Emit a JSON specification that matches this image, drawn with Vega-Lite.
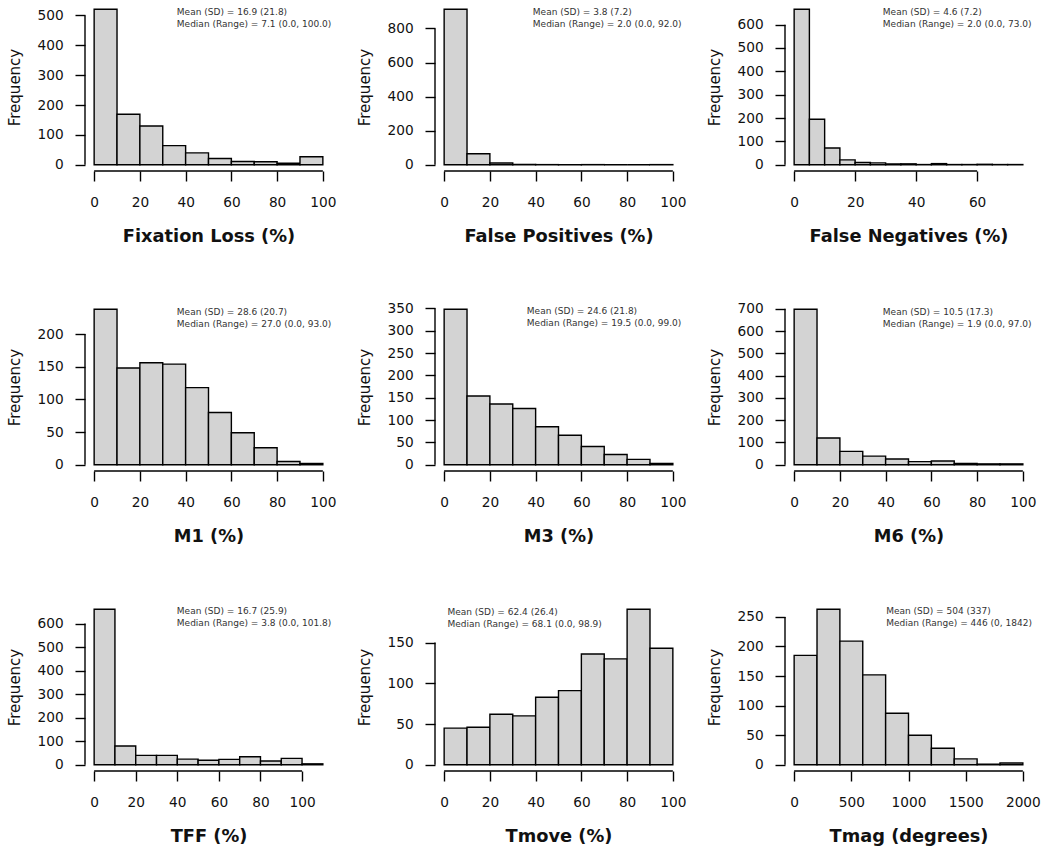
{
"$schema": "https://vega.github.io/schema/vega-lite/v6.json",
"background": "white",
"padding": {"left": 7, "top": 3, "right": 2, "bottom": 2},
"columns": 3,
"spacing": {"row": 132, "column": 103},
"bounds": "flush",
"datasets": {
"fixation": [{"lo":0,"hi":10,"count":521},{"lo":10,"hi":20,"count":169},{"lo":20,"hi":30,"count":130},{"lo":30,"hi":40,"count":64},{"lo":40,"hi":50,"count":40},{"lo":50,"hi":60,"count":21},{"lo":60,"hi":70,"count":11},{"lo":70,"hi":80,"count":10},{"lo":80,"hi":90,"count":5},{"lo":90,"hi":100,"count":27}],
"fpos": [{"lo":0,"hi":10,"count":913},{"lo":10,"hi":20,"count":65},{"lo":20,"hi":30,"count":10},{"lo":30,"hi":40,"count":2},{"lo":40,"hi":50,"count":1},{"lo":50,"hi":60,"count":1},{"lo":60,"hi":70,"count":1},{"lo":70,"hi":80,"count":0},{"lo":80,"hi":90,"count":0},{"lo":90,"hi":100,"count":1}],
"fneg": [{"lo":0,"hi":5,"count":666},{"lo":5,"hi":10,"count":195},{"lo":10,"hi":15,"count":72},{"lo":15,"hi":20,"count":21},{"lo":20,"hi":25,"count":10},{"lo":25,"hi":30,"count":8},{"lo":30,"hi":35,"count":4},{"lo":35,"hi":40,"count":4},{"lo":40,"hi":45,"count":1},{"lo":45,"hi":50,"count":5},{"lo":50,"hi":55,"count":1},{"lo":55,"hi":60,"count":1},{"lo":60,"hi":65,"count":2},{"lo":65,"hi":70,"count":1},{"lo":70,"hi":75,"count":1}],
"m1": [{"lo":0,"hi":10,"count":238},{"lo":10,"hi":20,"count":148},{"lo":20,"hi":30,"count":156},{"lo":30,"hi":40,"count":154},{"lo":40,"hi":50,"count":118},{"lo":50,"hi":60,"count":80},{"lo":60,"hi":70,"count":49},{"lo":70,"hi":80,"count":26},{"lo":80,"hi":90,"count":5},{"lo":90,"hi":100,"count":2}],
"m3": [{"lo":0,"hi":10,"count":348},{"lo":10,"hi":20,"count":154},{"lo":20,"hi":30,"count":136},{"lo":30,"hi":40,"count":126},{"lo":40,"hi":50,"count":85},{"lo":50,"hi":60,"count":66},{"lo":60,"hi":70,"count":41},{"lo":70,"hi":80,"count":23},{"lo":80,"hi":90,"count":12},{"lo":90,"hi":100,"count":3}],
"m6": [{"lo":0,"hi":10,"count":698},{"lo":10,"hi":20,"count":120},{"lo":20,"hi":30,"count":60},{"lo":30,"hi":40,"count":39},{"lo":40,"hi":50,"count":26},{"lo":50,"hi":60,"count":14},{"lo":60,"hi":70,"count":17},{"lo":70,"hi":80,"count":6},{"lo":80,"hi":90,"count":4},{"lo":90,"hi":100,"count":4}],
"tff": [{"lo":0,"hi":10,"count":661},{"lo":10,"hi":20,"count":80},{"lo":20,"hi":30,"count":40},{"lo":30,"hi":40,"count":40},{"lo":40,"hi":50,"count":24},{"lo":50,"hi":60,"count":19},{"lo":60,"hi":70,"count":23},{"lo":70,"hi":80,"count":34},{"lo":80,"hi":90,"count":16},{"lo":90,"hi":100,"count":27},{"lo":100,"hi":110,"count":4}],
"tmove": [{"lo":0,"hi":10,"count":45},{"lo":10,"hi":20,"count":46},{"lo":20,"hi":30,"count":62},{"lo":30,"hi":40,"count":60},{"lo":40,"hi":50,"count":83},{"lo":50,"hi":60,"count":91},{"lo":60,"hi":70,"count":136},{"lo":70,"hi":80,"count":130},{"lo":80,"hi":90,"count":191},{"lo":90,"hi":100,"count":143}],
"tmag": [{"lo":0,"hi":200,"count":185},{"lo":200,"hi":400,"count":263},{"lo":400,"hi":600,"count":209},{"lo":600,"hi":800,"count":152},{"lo":800,"hi":1000,"count":87},{"lo":1000,"hi":1200,"count":50},{"lo":1200,"hi":1400,"count":28},{"lo":1400,"hi":1600,"count":10},{"lo":1600,"hi":1800,"count":1},{"lo":1800,"hi":2000,"count":3}],
"one": [{"k":1}]
},
"concat": [
{"width":247,"height":168,"layer":[
 {"data":{"name":"fixation"},"mark":{"type":"rect","fill":"#d3d3d3","stroke":"#000","strokeWidth":1.4},
  "encoding":{"x":{"field":"lo","type":"quantitative","scale":{"domain":[-4,104],"nice":false,"zero":false},"axis":{"values":[0,20,40,60,80,100],"tickCount":30,"format":"d","labelOverlap":false,"title":"Fixation Loss (%)"}},"x2":{"field":"hi"},
   "y":{"field":"count","type":"quantitative","scale":{"domain":[-20.84,541.84],"nice":false,"zero":false},"axis":{"values":[0,100,200,300,400,500],"tickCount":30,"format":"d","labelOverlap":false,"title":"Frequency"}},"y2":{"datum":0}}},
 {"data":{"name":"one"},"mark":{"type":"rule","stroke":"#000","strokeWidth":1.4},"encoding":{"x":{"datum":0},"x2":{"datum":100},"y":{"datum":-20.84}}},
 {"data":{"name":"one"},"mark":{"type":"rule","stroke":"#000","strokeWidth":1.4},"encoding":{"x":{"datum":-4},"y":{"datum":0},"y2":{"datum":500}}},
 {"data":{"name":"one"},"mark":{"type":"text","font":"DejaVu Sans","fontSize":9,"fill":"#333","align":"left","baseline":"alphabetic","lineHeight":12},"encoding":{"x":{"datum":36.16},"y":{"datum":503.3},"text":{"value":["Mean (SD) = 16.9 (21.8)","Median (Range) = 7.1 (0.0, 100.0)"]}}}
]},
{"width":247,"height":168,"layer":[
 {"data":{"name":"fpos"},"mark":{"type":"rect","fill":"#d3d3d3","stroke":"#000","strokeWidth":1.4},
  "encoding":{"x":{"field":"lo","type":"quantitative","scale":{"domain":[-4,104],"nice":false,"zero":false},"axis":{"values":[0,20,40,60,80,100],"tickCount":30,"format":"d","labelOverlap":false,"title":"False Positives (%)"}},"x2":{"field":"hi"},
   "y":{"field":"count","type":"quantitative","scale":{"domain":[-36.52,949.52],"nice":false,"zero":false},"axis":{"values":[0,200,400,600,800],"tickCount":30,"format":"d","labelOverlap":false,"title":"Frequency"}},"y2":{"datum":0}}},
 {"data":{"name":"one"},"mark":{"type":"rule","stroke":"#000","strokeWidth":1.4},"encoding":{"x":{"datum":0},"x2":{"datum":100},"y":{"datum":-36.52}}},
 {"data":{"name":"one"},"mark":{"type":"rule","stroke":"#000","strokeWidth":1.4},"encoding":{"x":{"datum":-4},"y":{"datum":0},"y2":{"datum":800}}},
 {"data":{"name":"one"},"mark":{"type":"text","font":"DejaVu Sans","fontSize":9,"fill":"#333","align":"left","baseline":"alphabetic","lineHeight":12},"encoding":{"x":{"datum":38.78},"y":{"datum":882.0},"text":{"value":["Mean (SD) = 3.8 (7.2)","Median (Range) = 2.0 (0.0, 92.0)"]}}}
]},
{"width":247,"height":168,"layer":[
 {"data":{"name":"fneg"},"mark":{"type":"rect","fill":"#d3d3d3","stroke":"#000","strokeWidth":1.4},
  "encoding":{"x":{"field":"lo","type":"quantitative","scale":{"domain":[-3,78],"nice":false,"zero":false},"axis":{"values":[0,20,40,60],"tickCount":30,"format":"d","labelOverlap":false,"title":"False Negatives (%)"}},"x2":{"field":"hi"},
   "y":{"field":"count","type":"quantitative","scale":{"domain":[-26.64,692.64],"nice":false,"zero":false},"axis":{"values":[0,100,200,300,400,500,600],"tickCount":30,"format":"d","labelOverlap":false,"title":"Frequency"}},"y2":{"datum":0}}},
 {"data":{"name":"one"},"mark":{"type":"rule","stroke":"#000","strokeWidth":1.4},"encoding":{"x":{"datum":0},"x2":{"datum":60},"y":{"datum":-26.64}}},
 {"data":{"name":"one"},"mark":{"type":"rule","stroke":"#000","strokeWidth":1.4},"encoding":{"x":{"datum":-3},"y":{"datum":0},"y2":{"datum":600}}},
 {"data":{"name":"one"},"mark":{"type":"text","font":"DejaVu Sans","fontSize":9,"fill":"#333","align":"left","baseline":"alphabetic","lineHeight":12},"encoding":{"x":{"datum":29.09},"y":{"datum":643.4},"text":{"value":["Mean (SD) = 4.6 (7.2)","Median (Range) = 2.0 (0.0, 73.0)"]}}}
]},
{"width":247,"height":168,"layer":[
 {"data":{"name":"m1"},"mark":{"type":"rect","fill":"#d3d3d3","stroke":"#000","strokeWidth":1.4},
  "encoding":{"x":{"field":"lo","type":"quantitative","scale":{"domain":[-4,104],"nice":false,"zero":false},"axis":{"values":[0,20,40,60,80,100],"tickCount":30,"format":"d","labelOverlap":false,"title":"M1 (%)"}},"x2":{"field":"hi"},
   "y":{"field":"count","type":"quantitative","scale":{"domain":[-9.52,247.52],"nice":false,"zero":false},"axis":{"values":[0,50,100,150,200],"tickCount":30,"format":"d","labelOverlap":false,"title":"Frequency"}},"y2":{"datum":0}}},
 {"data":{"name":"one"},"mark":{"type":"rule","stroke":"#000","strokeWidth":1.4},"encoding":{"x":{"datum":0},"x2":{"datum":100},"y":{"datum":-9.52}}},
 {"data":{"name":"one"},"mark":{"type":"rule","stroke":"#000","strokeWidth":1.4},"encoding":{"x":{"datum":-4},"y":{"datum":0},"y2":{"datum":200}}},
 {"data":{"name":"one"},"mark":{"type":"text","font":"DejaVu Sans","fontSize":9,"fill":"#333","align":"left","baseline":"alphabetic","lineHeight":12},"encoding":{"x":{"datum":36.16},"y":{"datum":229.9},"text":{"value":["Mean (SD) = 28.6 (20.7)","Median (Range) = 27.0 (0.0, 93.0)"]}}}
]},
{"width":247,"height":168,"layer":[
 {"data":{"name":"m3"},"mark":{"type":"rect","fill":"#d3d3d3","stroke":"#000","strokeWidth":1.4},
  "encoding":{"x":{"field":"lo","type":"quantitative","scale":{"domain":[-4,104],"nice":false,"zero":false},"axis":{"values":[0,20,40,60,80,100],"tickCount":30,"format":"d","labelOverlap":false,"title":"M3 (%)"}},"x2":{"field":"hi"},
   "y":{"field":"count","type":"quantitative","scale":{"domain":[-13.92,361.92],"nice":false,"zero":false},"axis":{"values":[0,50,100,150,200,250,300,350],"tickCount":30,"format":"d","labelOverlap":false,"title":"Frequency"}},"y2":{"datum":0}}},
 {"data":{"name":"one"},"mark":{"type":"rule","stroke":"#000","strokeWidth":1.4},"encoding":{"x":{"datum":0},"x2":{"datum":100},"y":{"datum":-13.92}}},
 {"data":{"name":"one"},"mark":{"type":"rule","stroke":"#000","strokeWidth":1.4},"encoding":{"x":{"datum":-4},"y":{"datum":0},"y2":{"datum":350}}},
 {"data":{"name":"one"},"mark":{"type":"text","font":"DejaVu Sans","fontSize":9,"fill":"#333","align":"left","baseline":"alphabetic","lineHeight":12},"encoding":{"x":{"datum":36.16},"y":{"datum":336.2},"text":{"value":["Mean (SD) = 24.6 (21.8)","Median (Range) = 19.5 (0.0, 99.0)"]}}}
]},
{"width":247,"height":168,"layer":[
 {"data":{"name":"m6"},"mark":{"type":"rect","fill":"#d3d3d3","stroke":"#000","strokeWidth":1.4},
  "encoding":{"x":{"field":"lo","type":"quantitative","scale":{"domain":[-4,104],"nice":false,"zero":false},"axis":{"values":[0,20,40,60,80,100],"tickCount":30,"format":"d","labelOverlap":false,"title":"M6 (%)"}},"x2":{"field":"hi"},
   "y":{"field":"count","type":"quantitative","scale":{"domain":[-27.92,725.92],"nice":false,"zero":false},"axis":{"values":[0,100,200,300,400,500,600,700],"tickCount":30,"format":"d","labelOverlap":false,"title":"Frequency"}},"y2":{"datum":0}}},
 {"data":{"name":"one"},"mark":{"type":"rule","stroke":"#000","strokeWidth":1.4},"encoding":{"x":{"datum":0},"x2":{"datum":100},"y":{"datum":-27.92}}},
 {"data":{"name":"one"},"mark":{"type":"rule","stroke":"#000","strokeWidth":1.4},"encoding":{"x":{"datum":-4},"y":{"datum":0},"y2":{"datum":700}}},
 {"data":{"name":"one"},"mark":{"type":"text","font":"DejaVu Sans","fontSize":9,"fill":"#333","align":"left","baseline":"alphabetic","lineHeight":12},"encoding":{"x":{"datum":38.78},"y":{"datum":674.3},"text":{"value":["Mean (SD) = 10.5 (17.3)","Median (Range) = 1.9 (0.0, 97.0)"]}}}
]},
{"width":247,"height":168,"layer":[
 {"data":{"name":"tff"},"mark":{"type":"rect","fill":"#d3d3d3","stroke":"#000","strokeWidth":1.4},
  "encoding":{"x":{"field":"lo","type":"quantitative","scale":{"domain":[-4.4,114.4],"nice":false,"zero":false},"axis":{"values":[0,20,40,60,80,100],"tickCount":30,"format":"d","labelOverlap":false,"title":"TFF (%)"}},"x2":{"field":"hi"},
   "y":{"field":"count","type":"quantitative","scale":{"domain":[-26.44,687.44],"nice":false,"zero":false},"axis":{"values":[0,100,200,300,400,500,600],"tickCount":30,"format":"d","labelOverlap":false,"title":"Frequency"}},"y2":{"datum":0}}},
 {"data":{"name":"one"},"mark":{"type":"rule","stroke":"#000","strokeWidth":1.4},"encoding":{"x":{"datum":0},"x2":{"datum":100},"y":{"datum":-26.44}}},
 {"data":{"name":"one"},"mark":{"type":"rule","stroke":"#000","strokeWidth":1.4},"encoding":{"x":{"datum":-4.4},"y":{"datum":0},"y2":{"datum":600}}},
 {"data":{"name":"one"},"mark":{"type":"text","font":"DejaVu Sans","fontSize":9,"fill":"#333","align":"left","baseline":"alphabetic","lineHeight":12},"encoding":{"x":{"datum":39.78},"y":{"datum":638.6},"text":{"value":["Mean (SD) = 16.7 (25.9)","Median (Range) = 3.8 (0.0, 101.8)"]}}}
]},
{"width":247,"height":168,"layer":[
 {"data":{"name":"tmove"},"mark":{"type":"rect","fill":"#d3d3d3","stroke":"#000","strokeWidth":1.4},
  "encoding":{"x":{"field":"lo","type":"quantitative","scale":{"domain":[-4,104],"nice":false,"zero":false},"axis":{"values":[0,20,40,60,80,100],"tickCount":30,"format":"d","labelOverlap":false,"title":"Tmove (%)"}},"x2":{"field":"hi"},
   "y":{"field":"count","type":"quantitative","scale":{"domain":[-7.64,198.64],"nice":false,"zero":false},"axis":{"values":[0,50,100,150],"tickCount":30,"format":"d","labelOverlap":false,"title":"Frequency"}},"y2":{"datum":0}}},
 {"data":{"name":"one"},"mark":{"type":"rule","stroke":"#000","strokeWidth":1.4},"encoding":{"x":{"datum":0},"x2":{"datum":100},"y":{"datum":-7.64}}},
 {"data":{"name":"one"},"mark":{"type":"rule","stroke":"#000","strokeWidth":1.4},"encoding":{"x":{"datum":-4},"y":{"datum":0},"y2":{"datum":150}}},
 {"data":{"name":"one"},"mark":{"type":"text","font":"DejaVu Sans","fontSize":9,"fill":"#333","align":"left","baseline":"alphabetic","lineHeight":12},"encoding":{"x":{"datum":1.44},"y":{"datum":184.5},"text":{"value":["Mean (SD) = 62.4 (26.4)","Median (Range) = 68.1 (0.0, 98.9)"]}}}
]},
{"width":247,"height":168,"layer":[
 {"data":{"name":"tmag"},"mark":{"type":"rect","fill":"#d3d3d3","stroke":"#000","strokeWidth":1.4},
  "encoding":{"x":{"field":"lo","type":"quantitative","scale":{"domain":[-80,2080],"nice":false,"zero":false},"axis":{"values":[0,500,1000,1500,2000],"tickCount":30,"format":"d","labelOverlap":false,"title":"Tmag (degrees)"}},"x2":{"field":"hi"},
   "y":{"field":"count","type":"quantitative","scale":{"domain":[-10.52,273.52],"nice":false,"zero":false},"axis":{"values":[0,50,100,150,200,250],"tickCount":30,"format":"d","labelOverlap":false,"title":"Frequency"}},"y2":{"datum":0}}},
 {"data":{"name":"one"},"mark":{"type":"rule","stroke":"#000","strokeWidth":1.4},"encoding":{"x":{"datum":0},"x2":{"datum":2000},"y":{"datum":-10.52}}},
 {"data":{"name":"one"},"mark":{"type":"rule","stroke":"#000","strokeWidth":1.4},"encoding":{"x":{"datum":-80},"y":{"datum":0},"y2":{"datum":250}}},
 {"data":{"name":"one"},"mark":{"type":"text","font":"DejaVu Sans","fontSize":9,"fill":"#333","align":"left","baseline":"alphabetic","lineHeight":12},"encoding":{"x":{"datum":804.6},"y":{"datum":254.1},"text":{"value":["Mean (SD) = 504 (337)","Median (Range) = 446 (0, 1842)"]}}}
]}
],
"config": {
 "view": {"stroke": null},
 "axis": {"domain": false, "grid": false, "ticks": true, "tickColor": "#000", "tickWidth": 1.4, "tickSize": 10, "tickCap": "butt",
  "labelFont": "DejaVu Sans", "labelFontSize": 13.7, "labelColor": "#111", "labelOverlap": false, "labelFlush": false, "labelBound": false,
  "titleFont": "DejaVu Sans", "titleColor": "#111"},
 "axisX": {"labelPadding": 14.5, "titleFontSize": 17.8, "titleFontWeight": "bold", "titleY": 70, "titleBaseline": "alphabetic"},
 "axisY": {"labelPadding": 11.8, "labelAngle": 0, "titleFontSize": 15, "titleFontWeight": "normal", "titleX": -65.6, "titleY": 84, "titleBaseline": "alphabetic", "titleAngle": -90}
}
}
